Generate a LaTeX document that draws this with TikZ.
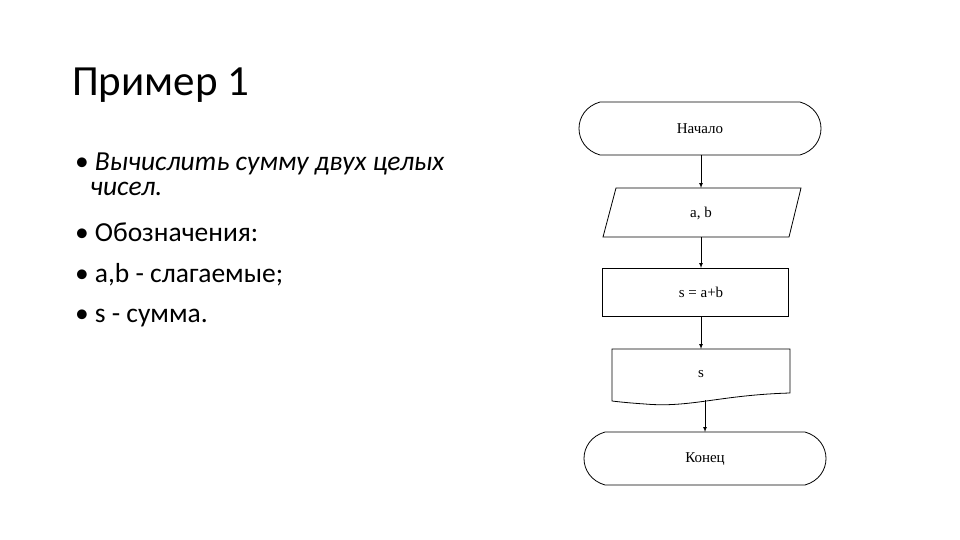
\documentclass[tikz,border=0pt]{standalone}
\usepackage{fontspec}
\setmainfont{Carlito}
\newfontfamily\serifx{Liberation Serif}
\begin{document}
\begin{tikzpicture}[x=1pt,y=-1pt,
  ln/.style={draw=black,line width=0.8pt},
  lbl/.style={font=\serifx\fontsize{15}{17}\selectfont},
  bt/.style={anchor=base west,inner sep=0pt,font=\fontsize{27.5}{31}\selectfont},
  arr/.style={-latex,line width=0.7pt}]
\useasboundingbox (0,0) rectangle (960,540);
\node[anchor=base west,inner sep=0pt,font=\fontsize{43}{48}\selectfont] (title) at (72,96) {Пример 1};
\node[bt] (b1) at (75,171) {•\hspace*{6pt}\itshape Вычислить сумму двух целых};
\node[bt] (b1b) at (90,196) {\itshape чисел.};
\node[bt] (b2) at (75,241) {•\hspace*{6pt}Обозначения:};
\node[bt] (b3) at (75,282) {•\hspace*{6pt}a,b - слагаемые;};
\node[bt] (b4) at (75,322) {•\hspace*{6pt}s - сумма.};
% start
\draw[ln] (600,102) -- (800,102) .. controls (828,110) and (828,147) .. (800,155) -- (600,155) .. controls (572,147) and (572,110) .. (600,102);
\node[lbl] (start) at (700,128.5) {Начало};
\coordinate (startb) at (701,155);
% input
\draw[ln] (616,188) -- (801,188) -- (789,237) -- (603,237) -- cycle;
\node[lbl] (in) at (701,213) {a, b};
\coordinate (int) at (701,188);
\coordinate (inb) at (701,237);
% process
\draw[ln] (602,268) rectangle (788,316);
\node[lbl] (pr) at (701,292) {s = a+b};
\coordinate (prt) at (701,268);
\coordinate (prb) at (701,316);
% document
\draw[ln] (612,349) -- (790,349) -- (790,393) .. controls (720,395) and (690,408) .. (645,404) .. controls (630,403) and (620,402) .. (612,401) -- cycle;
\node[lbl] (out) at (701,374) {s};
\coordinate (outt) at (701,349);
\coordinate (outb) at (705,400);
% end
\draw[ln] (605,432) -- (805,432) .. controls (833,440) and (833,477) .. (805,485) -- (605,485) .. controls (577,477) and (577,440) .. (605,432);
\node[lbl] (end) at (705,459) {Конец};
\coordinate (endt) at (705,432);
\draw[arr] (startb) -- (int);
\draw[arr] (inb) -- (prt);
\draw[arr] (prb) -- (outt);
\draw[arr] (outb) -- (endt);
\end{tikzpicture}
\end{document}
